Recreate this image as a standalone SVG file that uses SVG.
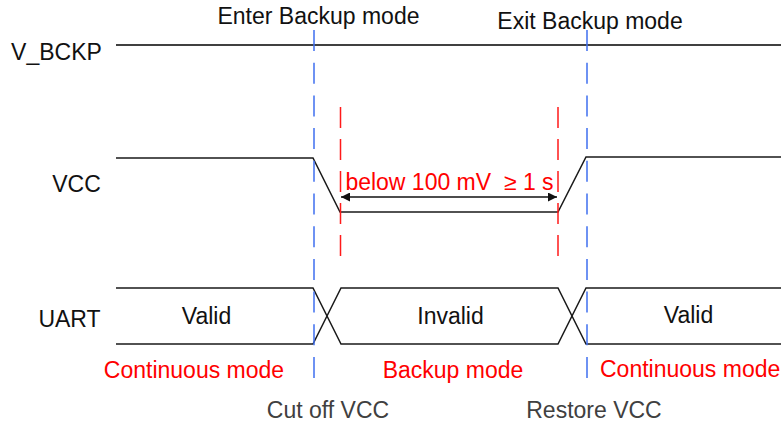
<svg xmlns="http://www.w3.org/2000/svg" width="781" height="425" viewBox="0 0 781 425">
<style>
text{font-family:"Liberation Sans",Arial,sans-serif;font-size:23px}
.k{fill:#111}
.r{fill:#ff0000}
.g{fill:#404040}
.sig{fill:none;stroke:#1a1a1a;stroke-width:1.5}
.blue{stroke:#3f6ff0;stroke-width:1.5;stroke-dasharray:21 11.7}
.red{stroke:#ff1a1a;stroke-width:1.5;stroke-dasharray:21 11}
</style>
<defs>
<marker id="ah" viewBox="0 0 10 10" refX="10" refY="5" markerWidth="10" markerHeight="9" markerUnits="userSpaceOnUse" orient="auto-start-reverse">
<path d="M0,0 L10,5 L0,10 z" fill="#111"/>
</marker>
</defs>
<rect width="781" height="425" fill="#ffffff"/>
<g id="labels">
<text class="k" x="56.5" y="60" text-anchor="middle">V_BCKP</text>
<text class="k" x="76.5" y="192" text-anchor="middle">VCC</text>
<text class="k" x="69.5" y="327" text-anchor="middle">UART</text>
<text class="k" x="318.5" y="24" text-anchor="middle">Enter Backup mode</text>
<text class="k" x="590" y="29" text-anchor="middle">Exit Backup mode</text>
</g>
<g id="signals">
<line x1="116" y1="45" x2="781" y2="45" stroke="#404040" stroke-width="2"/>
<polyline class="sig" points="116,158 313,158 340,212 558,212 586,157 781,157"/>
<polyline class="sig" points="116,288 313,288 341,344 558,344 586,288 781,288"/>
<polyline class="sig" points="116,344 313,344 341,288 558,288 586,344 781,344"/>
</g>
<g id="connectors">
<line class="blue" x1="314" y1="30" x2="314" y2="378"/>
<line class="blue" x1="587" y1="30" x2="587" y2="378"/>
<line class="red" x1="340.5" y1="107" x2="340.5" y2="259"/>
<line class="red" x1="558" y1="107" x2="558" y2="259"/>
<line x1="341" y1="197" x2="557" y2="197" stroke="#111" stroke-width="1.5" marker-start="url(#ah)" marker-end="url(#ah)"/>
</g>
<g id="states">
<text class="k" x="206.5" y="324" text-anchor="middle">Valid</text>
<text class="k" x="450.5" y="324" text-anchor="middle">Invalid</text>
<text class="k" x="688.5" y="323" text-anchor="middle">Valid</text>
<text class="r" x="449.5" y="190" text-anchor="middle" xml:space="preserve">below 100 mV  ≥ 1 s</text>
</g>
<g id="modes">
<text class="r" x="194" y="378" text-anchor="middle">Continuous mode</text>
<text class="r" x="453" y="378" text-anchor="middle">Backup mode</text>
<text class="r" x="600" y="377">Continuous mode</text>
<text class="g" x="328" y="418" text-anchor="middle">Cut off VCC</text>
<text class="g" x="594" y="418" text-anchor="middle">Restore VCC</text>
</g>
</svg>
